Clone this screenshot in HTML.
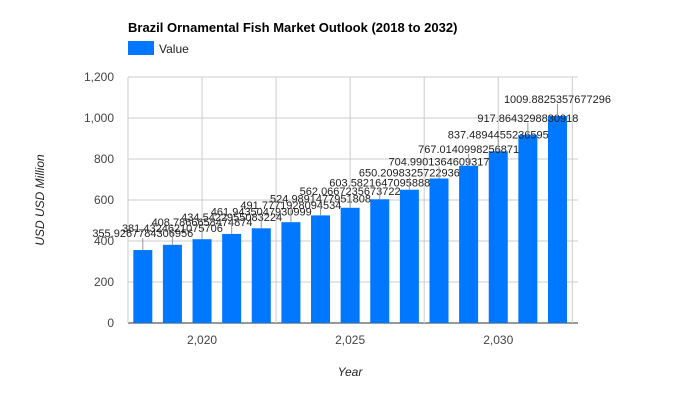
<!DOCTYPE html>
<html><head><meta charset="utf-8"><style>
body{margin:0;background:#fff;font-family:"Liberation Sans",Arial,sans-serif}
svg text{font-family:"Liberation Sans",Arial,sans-serif}
</style></head><body>
<svg id="chart" width="700" height="400">
<text x="128" y="32" font-size="13" font-weight="bold" fill="#000">Brazil Ornamental Fish Market Outlook (2018 to 2032)</text>
<rect x="128" y="41" width="26" height="14" fill="#0077ff"/>
<text x="159" y="53" font-size="12" fill="#222">Value</text>
<text transform="translate(44,200) rotate(-90)" text-anchor="middle" font-size="12" font-style="italic" fill="#222">USD USD Million</text>
<text x="350" y="376" text-anchor="middle" font-size="12" font-style="italic" fill="#222">Year</text>
<g id="grid"></g><g id="bars"></g><g id="labels"></g>
</svg>
<script>
const years=[2018,2019,2020,2021,2022,2023,2024,2025,2026,2027,2028,2029,2030,2031,2032];
const values=[355.9267784306956,381.4324621075706,408.7866658474874,434.5422955083224,461.9435047930999,491.7771928094534,524.9891477951808,562.0667235673722,603.5821647095888,650.2098325722936,704.9901364609317,767.0140998256871,837.4894455236595,917.8643298830918,1009.8825357677296];
const yTicks=[0,200,400,600,800,1000,1200];
const yTickLabels=["0","200","400","600","800","1,000","1,200"];
const xTicks=[2020,2025,2030];
const xTickLabels=["2,020","2,025","2,030"];
const xGrid=[2017.5,2020,2022.5,2025,2027.5,2030,2032.5];
const NS="http://www.w3.org/2000/svg";
const X0=128,X1=578,Y0=323,Y1=77;
const x=v=>142.8+(v-2018)*29.62;
const y=v=>Y0-(v/1200)*(Y0-Y1);
function mk(t,a,p){const e=document.createElementNS(NS,t);for(const k in a)e.setAttribute(k,a[k]);p.appendChild(e);return e;}
const grid=document.getElementById('grid'),bars=document.getElementById('bars'),labels=document.getElementById('labels');
yTicks.forEach((t,i)=>{
  const l=mk('line',{x1:X0,x2:X1,y1:y(t),y2:y(t),stroke:t===0?'#333':'#ccc','stroke-width':1},grid);
  
  
  const tx=mk('text',{x:X0-14,y:y(t)+4,'text-anchor':'end','font-size':12,fill:'#444'},grid);
  tx.textContent=yTickLabels[i];
  
  
});
xGrid.forEach(g=>{
  const l=mk('line',{x1:x(g),x2:x(g),y1:Y1,y2:Y0,stroke:'#ccc','stroke-width':1},grid);
  
  
});
xTicks.forEach((t,i)=>{
  const tx=mk('text',{x:x(t),y:344,'text-anchor':'middle','font-size':12,fill:'#444'},grid);
  tx.textContent=xTickLabels[i];
  
  
});
years.forEach((yr,i)=>{
  const v=values[i],cx=x(yr);
  const r=mk('rect',{x:cx-9.5,y:y(v),width:19,height:Y0-y(v),fill:'#0077ff'},bars);
  
  
  const ln=mk('line',{x1:cx,x2:cx,y1:y(v),y2:y(v)-12,stroke:'#999','stroke-width':1},labels);
  
  
  const tx=mk('text',{x:cx,y:y(v)-13,'text-anchor':'middle','font-size':11,fill:'#222'},labels);
  tx.textContent=String(v);
  
  
});
</script>
</body></html>
